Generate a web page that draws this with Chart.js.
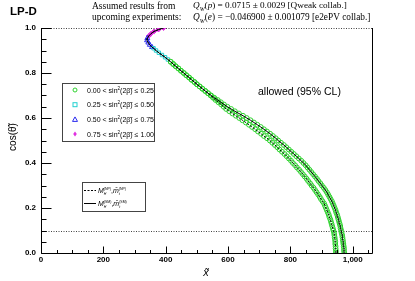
<!DOCTYPE html>
<html>
<head>
<meta charset="utf-8">
<script src="https://cdn.jsdelivr.net/npm/chart.js@4.4.1/dist/chart.umd.min.js"></script>
<style>
  html, body { margin: 0; padding: 0; background: #fff; }
  canvas { display: block; }
</style>
</head>
<body>
<canvas id="chart" width="415" height="281"></canvas>
<script>
// lower part of the two curves (green circles), cos(theta) vs x~
const cosLow = [0.00, 0.01, 0.02, 0.03, 0.04, 0.05, 0.06, 0.07, 0.08, 0.09,
  0.10, 0.11, 0.12, 0.13, 0.14, 0.15, 0.16, 0.17, 0.18, 0.19,
  0.20, 0.21, 0.22, 0.23, 0.24, 0.25, 0.26, 0.27, 0.28, 0.29,
  0.30, 0.31, 0.32, 0.33, 0.34, 0.35, 0.36, 0.37, 0.38, 0.39,
  0.40, 0.41, 0.42, 0.43, 0.44, 0.45, 0.46, 0.47, 0.48, 0.49,
  0.50, 0.51, 0.52, 0.53, 0.54, 0.55, 0.56, 0.57, 0.58, 0.59,
  0.60, 0.61, 0.62, 0.63, 0.64, 0.65, 0.66, 0.67, 0.68, 0.69,
  0.70, 0.71, 0.72, 0.73, 0.74, 0.75, 0.76, 0.77, 0.78, 0.79,
  0.80, 0.81, 0.82, 0.83, 0.84, 0.85];
// SM masses (solid line)
const xSM = [973, 972, 972, 971, 970, 969, 968, 967, 966, 964,
  963, 961, 960, 958, 956, 954, 952, 950, 947, 945,
  942, 939, 936, 933, 929, 925, 921, 917, 912, 907,
  901, 896, 890, 885, 879, 873, 867, 861, 855, 849,
  842, 835, 827, 819, 811, 803, 795, 787, 779, 770,
  761, 753, 744, 735, 725, 715, 705, 694, 683, 672,
  660, 648, 635, 622, 610, 598, 587, 577, 567, 556,
  546, 536, 527, 518, 509, 500, 492, 483, 475, 466,
  458, 449, 441, 432, 424, 416];
// NP masses (dashed line)
const xNP = [946, 946, 945, 945, 944, 944, 943, 942, 941, 940,
  938, 936, 934, 932, 930, 928, 925, 923, 920, 917,
  914, 911, 908, 903, 898, 894, 889, 884, 879, 874,
  868, 863, 857, 852, 846, 840, 834, 828, 821, 815,
  808, 802, 795, 788, 781, 773, 765, 758, 750, 742,
  734, 725, 715, 706, 696, 687, 677, 667, 657, 646,
  636, 625, 614, 604, 594, 586, 578, 569, 560, 552,
  544, 536, 527, 518, 509, 500, 492, 483, 475, 466,
  458, 449, 441, 432, 424, 416];

// upper part, common to both curves
const cosCyan = [0.86, 0.87, 0.88, 0.89, 0.90, 0.91];
const xCyan = [407, 398, 388, 378, 369, 361];
const cosBlue = [0.915, 0.925, 0.935, 0.945, 0.955];
const xBlue = [356, 349, 344, 340, 341];
const cosMagenta = [0.965, 0.975, 0.985, 0.993, 1.0];
const xMagenta = [346, 353, 363, 377, 393];

const refCos = 0.1;
const xMax = 1065;
const binLabels = ['0.00 < sin', '0.25 < sin', '0.50 < sin', '0.75 < sin'];
const binHigh = ['0.25', '0.50', '0.75', '1.00'];

const GREEN = '#2fd22f', CYAN = '#22d0d0', BLUE = '#2a2aee', MAGENTA = '#e030e0';
const SANS = '"Liberation Sans", Arial, sans-serif';
const SERIF = '"Liberation Serif", "Times New Roman", serif';

const pts = (xs, cs) => cs.map((c, i) => ({ x: xs[i], y: c }));
const upperPts = pts(xCyan, cosCyan).concat(pts(xBlue, cosBlue), pts(xMagenta, cosMagenta));

function rich(ctx, x, y, parts, size, family, smallScale) {
  const k = smallScale || 0.65;
  parts.forEach(p => {
    const s = p.small ? size * k : size;
    ctx.font = (p.italic ? 'italic ' : '') + s + 'px ' + family;
    const dy = p.sub ? size * 0.3 : p.sup ? -size * 0.4 : 0;
    ctx.fillText(p.t, x, y + dy);
    if (!p.stack) x += ctx.measureText(p.t).width;
  });
  return x;
}

const decor = {
  id: 'decor',
  beforeDatasetsDraw(chart) {
    const { ctx, chartArea: a, scales: { y } } = chart;
    ctx.save();
    ctx.strokeStyle = '#444';
    ctx.lineWidth = 1;
    ctx.setLineDash([1, 1.5]);
    [refCos, 1.0].forEach(v => {
      const py = Math.round(y.getPixelForValue(v)) + 0.5;
      ctx.beginPath(); ctx.moveTo(a.left, py); ctx.lineTo(a.right, py); ctx.stroke();
    });
    ctx.restore();
  },
  afterDraw(chart) {
    const { ctx, chartArea: a, scales: { x, y } } = chart;
    ctx.save();
    ctx.strokeStyle = '#000';
    ctx.lineWidth = 1;
    // frame: left, bottom, right
    const L = Math.round(a.left) + 0.5, B = Math.round(a.bottom) + 0.5, R = Math.round(a.right) - 0.5;
    ctx.beginPath();
    ctx.moveTo(L, a.top); ctx.lineTo(L, B); ctx.lineTo(R, B); ctx.lineTo(R, a.top);
    ctx.stroke();
    // inward ticks
    ctx.beginPath();
    for (let k = 0; k <= 20; k++) {
      const py = Math.round(y.getPixelForValue(k * 0.05)) + 0.5;
      const len = k % 4 === 0 ? 10 : 5;
      ctx.moveTo(L, py); ctx.lineTo(L + len, py);
    }
    for (let k = 0; k * 50 <= xMax; k++) {
      const px = Math.round(x.getPixelForValue(k * 50)) + 0.5;
      const len = k % 4 === 0 ? 7 : 3.5;
      ctx.moveTo(px, B); ctx.lineTo(px, B - len);
    }
    ctx.stroke();

    ctx.fillStyle = '#000';
    ctx.textBaseline = 'alphabetic';
    // title
    ctx.font = 'bold 11.5px ' + SANS;
    ctx.fillText('LP-D', 10, 15);
    // header
    ctx.font = '9.5px ' + SERIF;
    ctx.fillText('Assumed results from', 92, 9);
    ctx.fillText('upcoming experiments:', 92, 20);
    rich(ctx, 193, 8, [
      { t: 'Q', italic: true }, { t: 'W', italic: true, sub: true, small: true },
      { t: '(' }, { t: 'p', italic: true }, { t: ') = 0.0715 \u00b1 0.0029 [Qweak collab.]' }
    ], 9.2, SERIF);
    rich(ctx, 193, 20, [
      { t: 'Q', italic: true }, { t: 'W', italic: true, sub: true, small: true },
      { t: '(' }, { t: 'e', italic: true }, { t: ') = \u22120.046900 \u00b1 0.001079 [e2ePV collab.]' }
    ], 9.3, SERIF);
    // allowed
    ctx.font = '10.5px ' + SANS;
    ctx.fillText('allowed (95% CL)', 258, 95);
    // axis titles
    ctx.font = 'italic 11px ' + SANS;
    ctx.textAlign = 'center';
    ctx.fillText('x\u0303', 206, 276);
    ctx.save();
    ctx.translate(16, 137);
    ctx.rotate(-Math.PI / 2);
    ctx.font = '10px ' + SANS;
    ctx.fillText('cos(\u03b8\u0303)', 0, 0);
    ctx.restore();
    ctx.textAlign = 'left';

    // legend 1: bins
    ctx.strokeStyle = '#444';
    ctx.strokeRect(62.5, 83.5, 92, 58);
    const styles = [
      (cx, cy) => { ctx.strokeStyle = GREEN; ctx.beginPath(); ctx.arc(cx, cy, 2, 0, 2 * Math.PI); ctx.stroke(); },
      (cx, cy) => { ctx.strokeStyle = CYAN; ctx.strokeRect(cx - 2, cy - 2, 4, 4); },
      (cx, cy) => { ctx.strokeStyle = BLUE; ctx.beginPath(); ctx.moveTo(cx, cy - 2.5); ctx.lineTo(cx + 2.5, cy + 2); ctx.lineTo(cx - 2.5, cy + 2); ctx.closePath(); ctx.stroke(); },
      (cx, cy) => { ctx.fillStyle = MAGENTA; ctx.beginPath(); ctx.moveTo(cx, cy - 2.5); ctx.lineTo(cx + 1.8, cy); ctx.lineTo(cx, cy + 2.5); ctx.lineTo(cx - 1.8, cy); ctx.closePath(); ctx.fill(); }
    ];
    for (let i = 0; i < 4; i++) {
      const cy = 90 + i * 14.7;
      styles[i](75, cy);
      ctx.fillStyle = '#000';
      rich(ctx, 87, cy + 2.5, [
        { t: binLabels[i] }, { t: '2', sup: true, small: true },
        { t: '(2\u03b2\u0303) \u2264 ' + binHigh[i] }
      ], 7, SANS);
    }

    // legend 2: line styles
    ctx.strokeStyle = '#444';
    ctx.setLineDash([]);
    ctx.strokeRect(82.5, 182.5, 63, 29);
    ctx.strokeStyle = '#000';
    [[190, [2, 1.5]], [203, []]].forEach(([ly, dash], i) => {
      ctx.setLineDash(dash);
      ctx.beginPath(); ctx.moveTo(84, ly + 0.5); ctx.lineTo(96, ly + 0.5); ctx.stroke();
      const tag = i === 0 ? '(NP)' : '(SM)';
      ctx.fillStyle = '#000';
      rich(ctx, 98, ly + 3, [
        { t: 'M', italic: true }, { t: 'H', italic: true, sub: true, small: true, stack: true },
        { t: tag, sup: true, small: true }, { t: ',' },
        { t: 'm\u0304', italic: true }, { t: 't', italic: true, sub: true, small: true, stack: true },
        { t: tag, sup: true, small: true }
      ], 7, SANS, 0.5);
    });
    ctx.restore();
  }
};

const circles = xs => ({
  data: pts(xs, cosLow), pointStyle: 'circle', pointRadius: 2.4, borderColor: GREEN,
  borderWidth: 1, backgroundColor: 'rgba(0,0,0,0)', order: 1
});

new Chart(document.getElementById('chart'), {
  type: 'scatter',
  data: {
    datasets: [
      { data: pts(xSM, cosLow).concat(upperPts), showLine: true, borderColor: '#000', borderWidth: 1, pointRadius: 0, order: 0 },
      { data: pts(xNP, cosLow).concat(upperPts), showLine: true, borderColor: '#000', borderWidth: 1, borderDash: [2, 1.5], pointRadius: 0, order: 0 },
      circles(xSM),
      circles(xNP),
      { data: pts(xCyan, cosCyan), pointStyle: 'rect', pointRadius: 2.4, borderColor: CYAN, borderWidth: 1, backgroundColor: 'rgba(0,0,0,0)', order: 1 },
      { data: pts(xBlue, cosBlue), pointStyle: 'triangle', pointRadius: 2.8, borderColor: BLUE, borderWidth: 1, backgroundColor: 'rgba(0,0,0,0)', order: 1 },
      { data: pts(xMagenta, cosMagenta), pointStyle: 'rectRot', pointRadius: 2.4, borderColor: MAGENTA, borderWidth: 1, backgroundColor: MAGENTA, order: 1 }
    ]
  },
  options: {
    responsive: false,
    animation: false,
    devicePixelRatio: 1,
    layout: { padding: { top: 28, right: 42, left: 0, bottom: 0 } },
    plugins: { legend: { display: false }, tooltip: { enabled: false } },
    scales: {
      x: {
        type: 'linear', min: 0, max: xMax,
        grid: { display: false, drawTicks: false },
        border: { display: false },
        ticks: { stepSize: 200, includeBounds: false, padding: 2, color: '#000', font: { family: SANS, size: 8, weight: 'bold' } },
        afterFit(s) { s.height = 28; }
      },
      y: {
        type: 'linear', min: 0, max: 1,
        grid: { display: false, drawTicks: false },
        border: { display: false },
        ticks: { stepSize: 0.2, padding: 5, color: '#000', font: { family: SANS, size: 8, weight: 'bold' }, callback: v => v.toFixed(1) },
        afterFit(s) { s.width = 41; }
      }
    }
  },
  plugins: [decor]
});
</script>
</body>
</html>
